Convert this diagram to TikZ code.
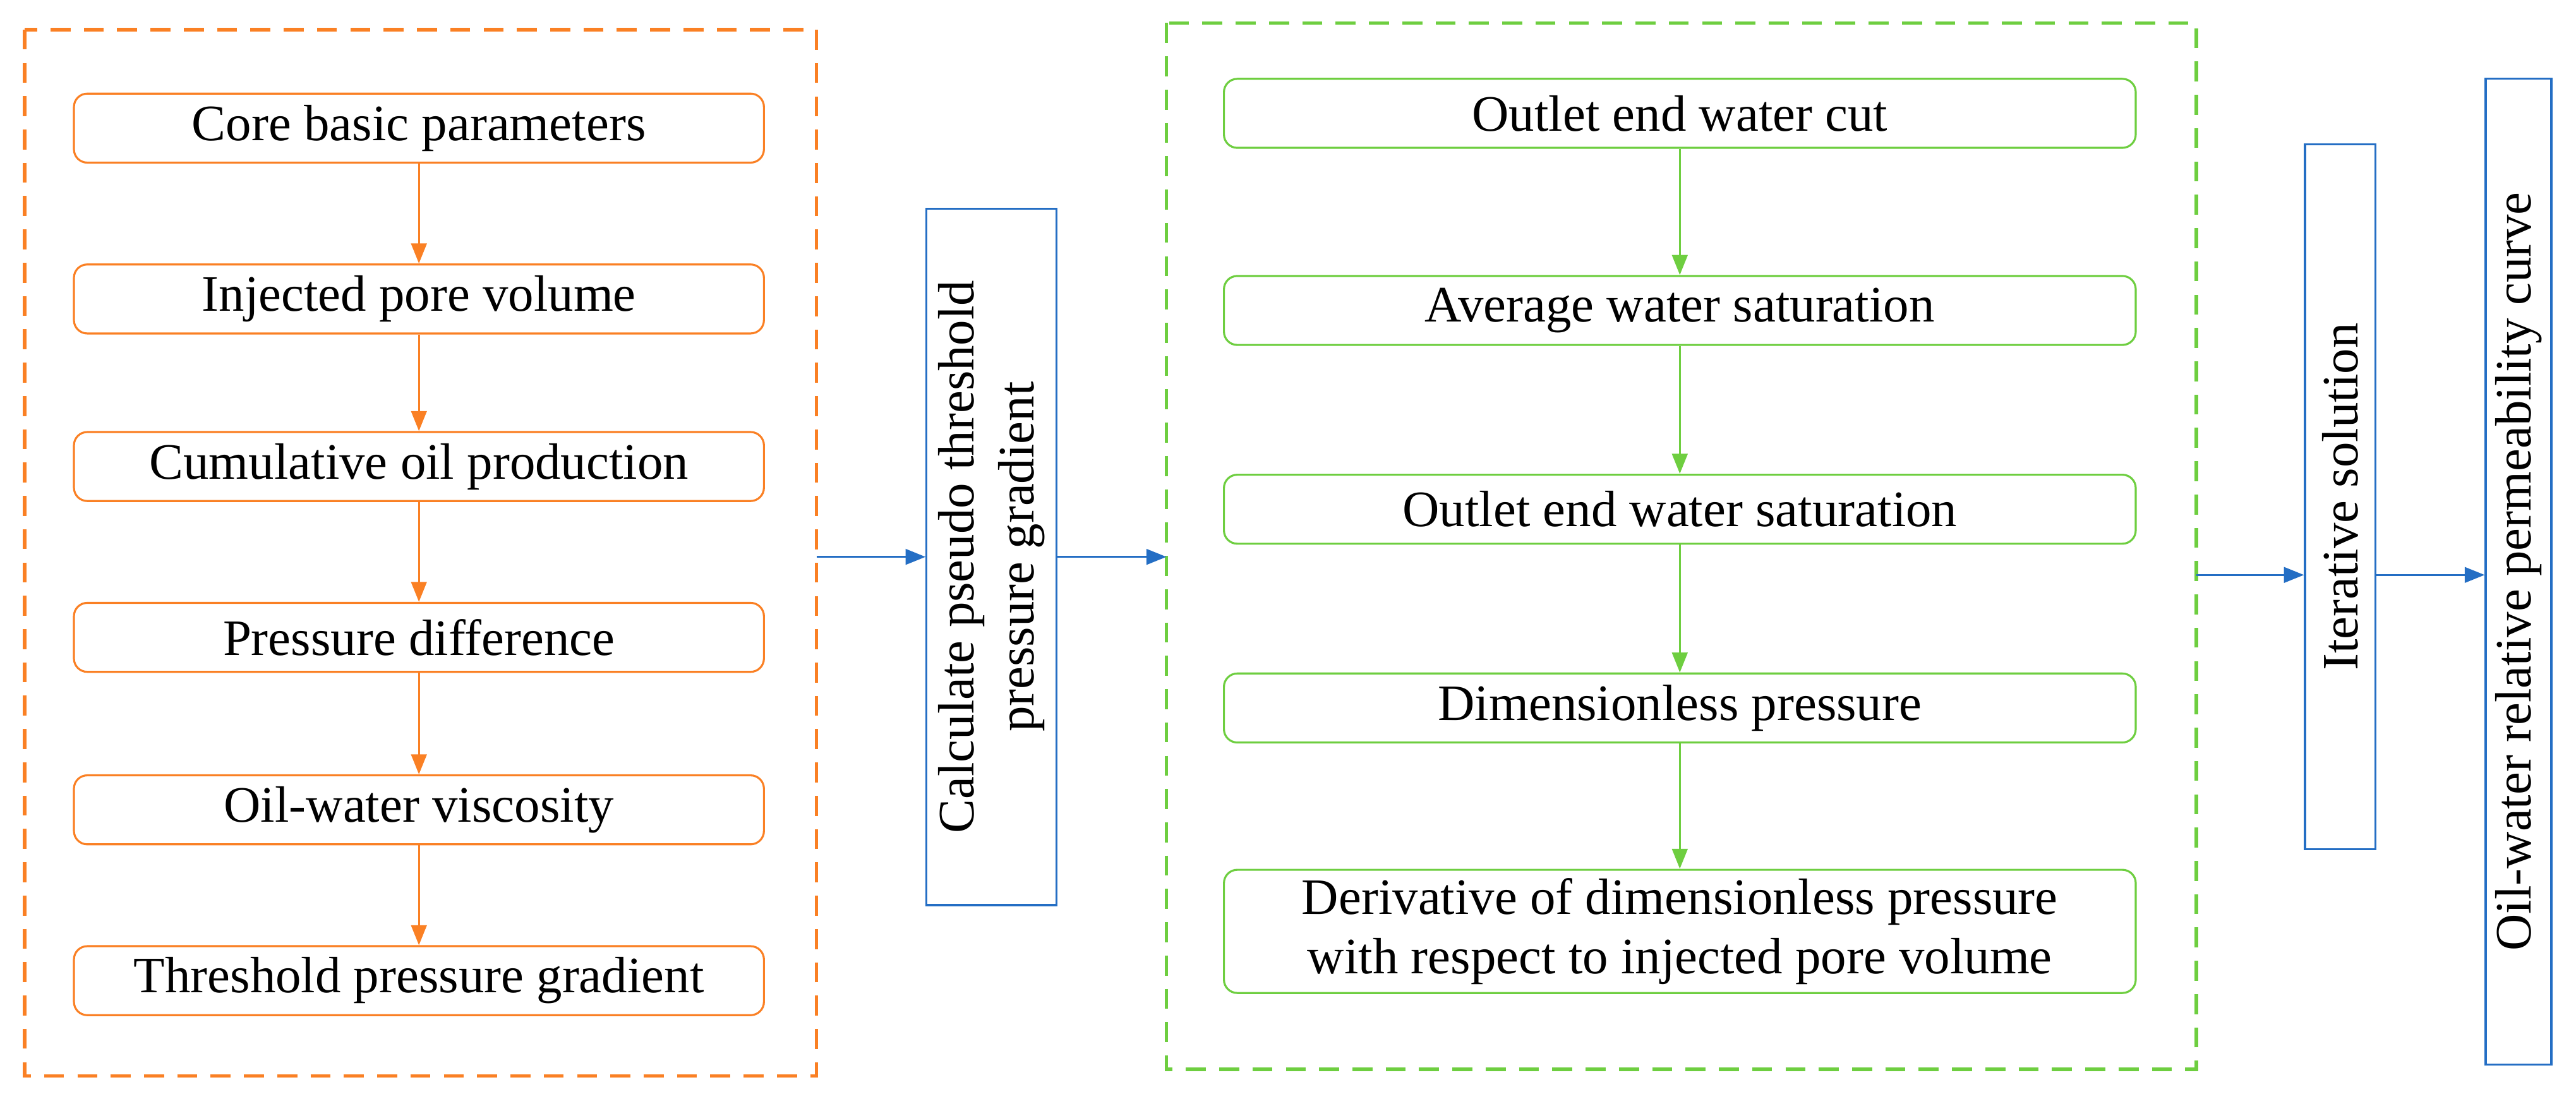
\documentclass[tikz,border=0pt]{standalone}
\usepackage{fontspec}
\setmainfont{Liberation Serif}
\usetikzlibrary{arrows.meta}
\definecolor{orng}{RGB}{250,128,36}
\definecolor{grn}{RGB}{110,206,64}
\definecolor{blu}{RGB}{36,110,196}
\tikzset{
  stepbox/.style={draw, rounded corners=6pt, line width=0.9pt, font=\fontsize{23}{27}\selectfont},
  vbox/.style={draw=blu, line width=0.9pt, font=\fontsize{23}{27}\selectfont},
  grp/.style={dashed, line width=1.6pt, dash pattern=on 9pt off 6pt},
  arr/.style={-{Triangle[length=9pt,width=7pt]}, line width=0.9pt}
}
\begin{document}
\begin{tikzpicture}[x=0.026cm,y=-0.026cm]
\useasboundingbox (0,0) rectangle (1568,669);

% left group
\draw[grp,draw=orng] (15,18) rectangle (497,655);
\foreach \n/\y/\t in {a1/78/Core basic parameters, a2/182/Injected pore volume, a3/284/Cumulative oil production, a4/388/Pressure difference, a5/493/Oil-water viscosity, a6/597/Threshold pressure gradient}{
  \node[stepbox,draw=orng,minimum width=420*0.026cm,minimum height=42*0.026cm] (\n) at (255,\y) {\t};
}
\foreach \i [evaluate=\i as \j using int(\i+1)] in {1,...,5}{
  \draw[arr,orng] (a\i) -- (a\j);
}

% pseudo gradient
\node[vbox,minimum width=424*0.026cm,minimum height=79*0.026cm,rotate=90,align=center,inner sep=0pt] (pg) at (603.5,339) {Calculate pseudo threshold\\pressure gradient};

% right group
\draw[grp,draw=grn] (710,14) rectangle (1337,651);
\foreach \n/\y/\t in {b1/69/Outlet end water cut, b2/189/Average water saturation, b3/310/Outlet end water saturation, b4/431/Dimensionless pressure}{
  \node[stepbox,draw=grn,minimum width=555*0.026cm,minimum height=42*0.026cm] (\n) at (1022.5,\y) {\t};
}
\node[stepbox,draw=grn,minimum width=555*0.026cm,minimum height=75*0.026cm,align=center,inner sep=1pt] (b5) at (1022.5,567) {Derivative of dimensionless pressure\\with respect to injected pore volume};
\foreach \i [evaluate=\i as \j using int(\i+1)] in {1,...,4}{
  \draw[arr,grn] (b\i) -- (b\j);
}

\node[vbox,minimum width=429*0.026cm,minimum height=43*0.026cm,rotate=90] (it) at (1424.5,302.5) {Iterative solution};
\node[vbox,minimum width=600*0.026cm,minimum height=40*0.026cm,rotate=90] (kr) at (1533,348) {Oil-water relative permeability curve};

\coordinate (lo) at (497,339);
\coordinate (gi) at (710,339);
\coordinate (go) at (1337,350);
\draw[arr,blu] (lo) -- (pg.north |- lo);
\draw[arr,blu] (pg.south |- gi) -- (gi);
\draw[arr,blu] (go) -- (it.north |- go);
\draw[arr,blu] (it.south |- go) -- (kr.north |- go);
\end{tikzpicture}
\end{document}
